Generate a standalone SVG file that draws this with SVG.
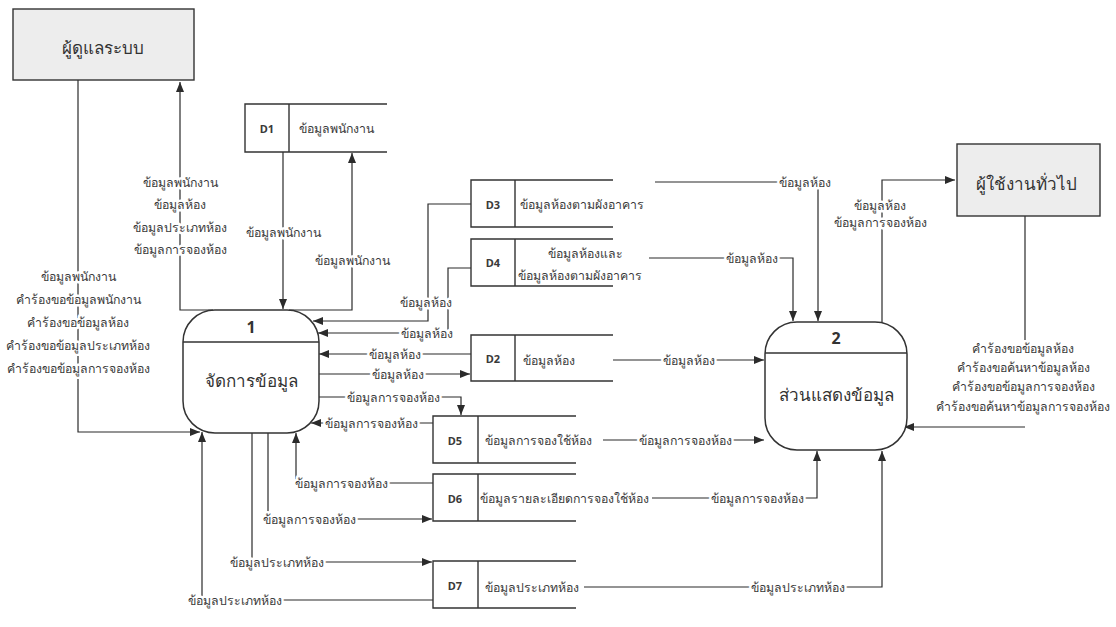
<svg xmlns="http://www.w3.org/2000/svg" width="1116" height="627" viewBox="0 0 1116 627">
  <defs>
    <marker id="arrow" viewBox="0 0 10 8" refX="10" refY="4" markerWidth="10" markerHeight="8" markerUnits="userSpaceOnUse" orient="auto">
      <path d="M0,0 L10,4 L0,8 Z" fill="#2b2b2b"/>
    </marker>
    <style>
      text { font-family: "Noto Sans", "DejaVu Sans", sans-serif; fill: #3a3a3a; }
      .ent { fill: #ededed; stroke: #333; stroke-width: 1.4; }
      .proc { fill: #fff; stroke: #333; stroke-width: 1.5; }
      .store { fill: none; stroke: #333; stroke-width: 1.4; }
      .flow { fill: none; stroke: #2b2b2b; stroke-width: 1.2; }
      .arr { marker-end: url(#arrow); }
      .lbl { font-size: 12.3px; text-anchor: middle; dominant-baseline: central; stroke: #fff; stroke-width: 5; paint-order: stroke; stroke-linejoin: round; }
      .sid { font-size: 11px; font-weight: bold; text-anchor: middle; dominant-baseline: central; }
      .sname { font-size: 12.3px; dominant-baseline: central; }
      .ename { font-size: 17px; text-anchor: middle; dominant-baseline: central; fill: #333; }
      .pnum { font-size: 16px; font-weight: bold; text-anchor: middle; dominant-baseline: central; fill: #333; }
      .pname { font-size: 17px; text-anchor: middle; dominant-baseline: central; fill: #333; }
    </style>
  </defs>

  <rect width="1116" height="627" fill="#fff"/>

  <!-- data flows -->
  <g id="connectors">
    <path class="flow arr" d="M78,80 V432 H200"/>
    <path class="flow arr" d="M213,310 H180 V82"/>
    <path class="flow arr" d="M283,152 V309"/>
    <path class="flow arr" d="M289,310 H352 V153"/>
    <path class="flow arr" d="M471,204 H428 V321 H313"/>
    <path class="flow arr" d="M471,268 H448 V333 H318"/>
    <path class="flow arr" d="M471,354 H319"/>
    <path class="flow arr" d="M319,374 H470"/>
    <path class="flow arr" d="M319,397 H461 V415"/>
    <path class="flow arr" d="M433,423 H311"/>
    <path class="flow arr" d="M252,433 V562 H432"/>
    <path class="flow arr" d="M268,433 V519 H432"/>
    <path class="flow arr" d="M433,483 H296 V433"/>
    <path class="flow arr" d="M433,600 H202 V432"/>
    <path class="flow arr" d="M655,182 H818 V321"/>
    <path class="flow arr" d="M649,258 H793 V321"/>
    <path class="flow arr" d="M882,322 V180 H955"/>
    <path class="flow" d="M1025,216 V340"/>
    <path class="flow arr" d="M1025,427 H904"/>
    <path class="flow arr" d="M613,360 H764"/>
    <path class="flow arr" d="M603,440 H764"/>
    <path class="flow arr" d="M652,498 H817 V451"/>
    <path class="flow arr" d="M584,587 H882 V451"/>

    <!-- flow labels -->
    <text class="lbl" x="78" y="276">ข้อมูลพนักงาน</text>
    <text class="lbl" x="78" y="299">คำร้องขอข้อมูลพนักงาน</text>
    <text class="lbl" x="78" y="322">คำร้องขอข้อมูลห้อง</text>
    <text class="lbl" x="78" y="345">คำร้องขอข้อมูลประเภทห้อง</text>
    <text class="lbl" x="78" y="368">คำร้องขอข้อมูลการจองห้อง</text>

    <text class="lbl" x="180" y="182">ข้อมูลพนักงาน</text>
    <text class="lbl" x="180" y="204">ข้อมูลห้อง</text>
    <text class="lbl" x="180" y="227">ข้อมูลประเภทห้อง</text>
    <text class="lbl" x="180" y="249">ข้อมูลการจองห้อง</text>

    <text class="lbl" x="283" y="232">ข้อมูลพนักงาน</text>
    <text class="lbl" x="352" y="260">ข้อมูลพนักงาน</text>

    <text class="lbl" x="426" y="302">ข้อมูลห้อง</text>
    <text class="lbl" x="427" y="333">ข้อมูลห้อง</text>
    <text class="lbl" x="395" y="354">ข้อมูลห้อง</text>
    <text class="lbl" x="398" y="374">ข้อมูลห้อง</text>
    <text class="lbl" x="393" y="397">ข้อมูลการจองห้อง</text>
    <text class="lbl" x="371" y="423">ข้อมูลการจองห้อง</text>

    <text class="lbl" x="341" y="483">ข้อมูลการจองห้อง</text>
    <text class="lbl" x="309" y="519">ข้อมูลการจองห้อง</text>
    <text class="lbl" x="277" y="562">ข้อมูลประเภทห้อง</text>
    <text class="lbl" x="235" y="600">ข้อมูลประเภทห้อง</text>

    <text class="lbl" x="805" y="182">ข้อมูลห้อง</text>
    <text class="lbl" x="752" y="258">ข้อมูลห้อง</text>
    <text class="lbl" x="880" y="205">ข้อมูลห้อง</text>
    <text class="lbl" x="880" y="222">ข้อมูลการจองห้อง</text>

    <text class="lbl" x="1023" y="348">คำร้องขอข้อมูลห้อง</text>
    <text class="lbl" x="1023" y="367">คำร้องขอค้นหาข้อมูลห้อง</text>
    <text class="lbl" x="1023" y="386">คำร้องขอข้อมูลการจองห้อง</text>
    <text class="lbl" x="1023" y="406">คำร้องขอค้นหาข้อมูลการจองห้อง</text>

    <text class="lbl" x="689" y="360">ข้อมูลห้อง</text>
    <text class="lbl" x="685" y="440">ข้อมูลการจองห้อง</text>
    <text class="lbl" x="757" y="498">ข้อมูลการจองห้อง</text>
    <text class="lbl" x="798" y="587">ข้อมูลประเภทห้อง</text>
  </g>

  <!-- external entities -->
  <g id="admin">
    <rect class="ent" x="13" y="9" width="181" height="71"/>
    <text class="ename" x="103" y="47">ผู้ดูแลระบบ</text>
  </g>
  <g id="user">
    <rect class="ent" x="957" y="144" width="143" height="72"/>
    <text class="ename" x="1026" y="183">ผู้ใช้งานทั่วไป</text>
  </g>

  <!-- processes -->
  <g id="p1">
    <rect class="proc" x="183" y="310" width="136" height="123" rx="32" ry="32"/>
    <line class="store" x1="183" y1="342" x2="319" y2="342"/>
    <text class="pnum" x="251" y="327">1</text>
    <text class="pname" x="251" y="380">จัดการข้อมูล</text>
  </g>
  <g id="p2">
    <rect class="proc" x="765" y="322" width="142" height="128" rx="32" ry="32"/>
    <line class="store" x1="765" y1="353" x2="907" y2="353"/>
    <text class="pnum" x="836" y="338">2</text>
    <text class="pname" x="836" y="394">ส่วนแสดงข้อมูล</text>
  </g>

  <!-- data stores -->
  <g id="d1">
    <path class="store" d="M387,104 H245 V152 H387 M289,104 V152"/>
    <text class="sid" x="267" y="128">D1</text>
    <text class="sname" x="299" y="128">ข้อมูลพนักงาน</text>
  </g>
  <g id="d3">
    <path class="store" d="M613,180 H471 V227 H613 M515,180 V227"/>
    <text class="sid" x="493" y="204">D3</text>
    <text class="sname" x="520" y="204">ข้อมูลห้องตามผังอาคาร</text>
  </g>
  <g id="d4">
    <path class="store" d="M613,239 H471 V286 H613 M515,239 V286"/>
    <text class="sid" x="493" y="262">D4</text>
    <text class="sname" x="585" y="253" text-anchor="middle">ข้อมูลห้องและ</text>
    <text class="sname" x="518" y="275">ข้อมูลห้องตามผังอาคาร</text>
  </g>
  <g id="d2">
    <path class="store" d="M613,335 H471 V381 H613 M515,335 V381"/>
    <text class="sid" x="493" y="358">D2</text>
    <text class="sname" x="523" y="360">ข้อมูลห้อง</text>
  </g>
  <g id="d5">
    <path class="store" d="M576,416 H433 V463 H576 M478,416 V463"/>
    <text class="sid" x="455" y="440">D5</text>
    <text class="sname" x="485" y="440">ข้อมูลการจองใช้ห้อง</text>
  </g>
  <g id="d6">
    <path class="store" d="M576,474 H433 V521 H576 M478,474 V521"/>
    <text class="sid" x="455" y="498">D6</text>
    <text class="sname" x="480" y="498">ข้อมูลรายละเอียดการจองใช้ห้อง</text>
  </g>
  <g id="d7">
    <path class="store" d="M576,561 H433 V608 H576 M478,561 V608"/>
    <text class="sid" x="455" y="585">D7</text>
    <text class="sname" x="485" y="587">ข้อมูลประเภทห้อง</text>
  </g>
</svg>
